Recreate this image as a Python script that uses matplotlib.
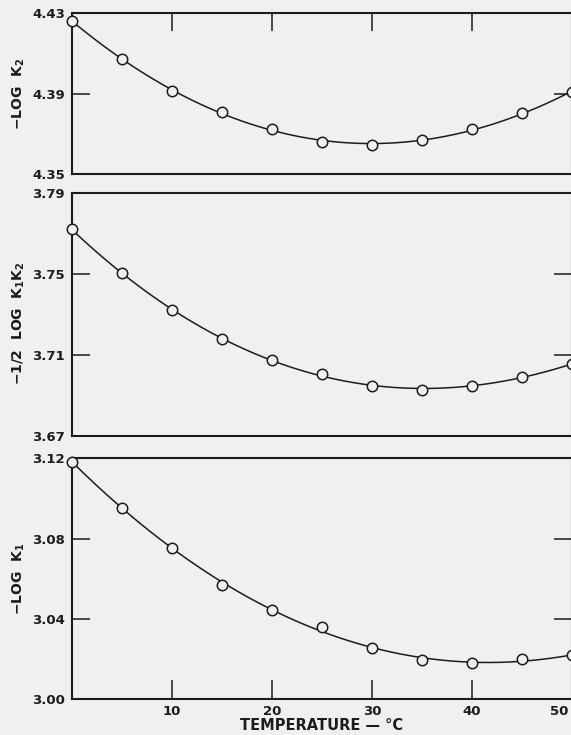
import numpy as np
import matplotlib
matplotlib.use("Agg")
import matplotlib.pyplot as plt
import matplotlib.transforms as mtransforms

# temperatures (deg C) and values
temps = [0, 5, 10, 15, 20, 25, 30, 35, 40, 45, 50]
log_k2 = [4.4262, 4.4071, 4.3913, 4.3810, 4.3722, 4.3661, 4.3646, 4.3669, 4.3722, 4.3802, 4.3910]
half_log_k1k2 = [3.7722, 3.7505, 3.7323, 3.7182, 3.7075, 3.7007, 3.6950, 3.6930, 3.6948, 3.6994, 3.7057]
log_k1 = [3.1183, 3.0954, 3.0752, 3.0571, 3.0445, 3.0362, 3.0254, 3.0195, 3.0180, 3.0199, 3.0219]

x_ticks = [10, 20, 30, 40, 50]
ticks_k2 = [4.35, 4.39, 4.43]
ticks_k1k2 = [3.67, 3.71, 3.75, 3.79]
ticks_k1 = [3.00, 3.04, 3.08, 3.12]

paper = "#f0f0ee"
ink = "#1c1c1c"

plt.rcParams["font.family"] = ["DejaVu Sans"]
plt.rcParams["font.weight"] = "bold"
plt.rcParams["mathtext.default"] = "bf"

fig = plt.figure(figsize=(5.71, 7.35), dpi=100, facecolor=paper)

W, H = 571.0, 735.0
x0, x1 = 72.0, 572.0


def make_axes(top_px, bottom_px):
    return fig.add_axes([x0 / W, 1 - bottom_px / H, (x1 - x0) / W, (bottom_px - top_px) / H])


panels = [
    (make_axes(13.3, 174.0), log_k2, ticks_k2, "$-$LOG  K$_2$", 0.5),
    (make_axes(193.3, 436.3), half_log_k1k2, ticks_k1k2, "$-$1/2  LOG  K$_1$K$_2$", 0.465),
    (make_axes(458.3, 699.3), log_k1, ticks_k1, "$-$LOG  K$_1$", 0.5),
]

for i, (ax, vals, yt, label, ly) in enumerate(panels):
    ax.set_facecolor(paper)
    # smooth curve fitted through the measured points
    coef = np.polyfit(temps, vals, 3)
    tt = np.linspace(0, 50, 300)
    ax.plot(tt, np.polyval(coef, tt), color=ink, lw=1.1, zorder=2)
    ax.plot(temps, vals, "o", ms=7.5, mfc=paper, mec=ink, mew=1.1,
            clip_on=False, zorder=4)
    ax.set_xlim(0, 50)
    ax.set_ylim(yt[0], yt[-1])
    ax.set_yticks(yt)
    ax.set_yticklabels([f"{v:.2f}" for v in yt])
    for sp in ax.spines.values():
        sp.set_linewidth(1.5)
        sp.set_color(ink)
    ax.tick_params(axis="y", direction="in", length=13, width=1.1, colors=ink,
                   left=True, right=True, labelleft=True, labelright=False,
                   labelsize=9.5, pad=5)
    ax.set_xticks(x_ticks)
    if i == 0:
        ax.tick_params(axis="x", direction="in", length=13, width=1.1, colors=ink,
                       top=True, bottom=False, labeltop=False, labelbottom=False)
    elif i == 1:
        ax.tick_params(axis="x", top=False, bottom=False,
                       labeltop=False, labelbottom=False)
    else:
        ax.tick_params(axis="x", direction="in", length=14, width=1.1, colors=ink,
                       top=False, bottom=True, labelbottom=True,
                       labelsize=9.5, pad=4)
        ax.set_xlabel("TEMPERATURE — °C", fontsize=10.5, fontweight="bold",
                      color=ink, labelpad=0)
        # the scan cuts the "50" at the right edge; nudge it in a little
        last = ax.get_xticklabels()[-1]
        last.set_transform(last.get_transform() +
                           mtransforms.ScaledTranslation(-9 / 72, 0, fig.dpi_scale_trans))
    ax.set_ylabel(label, fontsize=10, fontweight="bold", color=ink)
    ax.yaxis.set_label_coords(-0.09, ly)

fig.savefig("out.png", dpi=100, facecolor=paper)
